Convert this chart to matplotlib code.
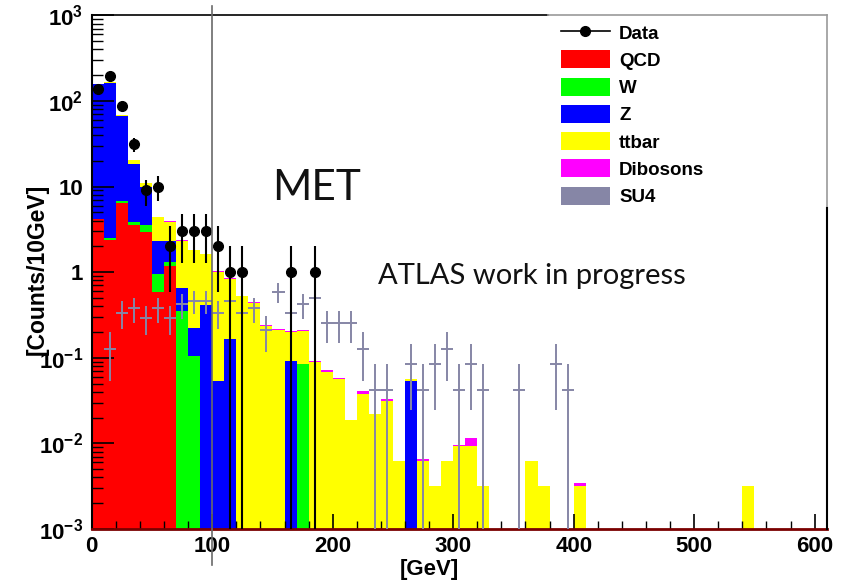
import numpy as np
import matplotlib
matplotlib.use('Agg')
import matplotlib.pyplot as plt
from matplotlib.patches import Patch, Rectangle
from matplotlib.lines import Line2D
from matplotlib.ticker import LogLocator, NullFormatter, MultipleLocator

plt.rcParams['font.family'] = ['Liberation Sans', 'DejaVu Sans']
plt.rcParams['mathtext.fontset'] = 'custom'
plt.rcParams['mathtext.rm'] = 'Liberation Sans'
plt.rcParams['mathtext.bf'] = 'Liberation Sans:bold'

# MET histograms, 10 GeV bins from 0 to 610 GeV (stacked MC)
bin_edges = np.arange(0, 620, 10)
n_bins = len(bin_edges) - 1

qcd = [4.2, 2.4, 6.5, 3.54, 2.96, 0.59, 1.17]
wjets = [0.02, 0.1, 0.3, 0.26, 0.58, 0.36, 0.15, 0.353, 0.104,
         0, 0, 0, 0, 0, 0, 0, 0, 0.085]
zjets = [153, 161.5, 59.2, 14.5, 6.36, 1.35, 0.98, 0.30, 0.118, 0.41,
         0.053, 0.165, 0, 0, 0, 0, 0.091, 0, 0, 0, 0, 0, 0, 0, 0, 0, 0.053]
ttbar = [0.4, 0.5, 2.0, 2.0, 1.0, 2.1, 1.6, 1.67, 1.58, 1.21,
         0.95, 0.675, 0.52, 0.44, 0.234, 0.21, 0.109, 0.12, 0.089, 0.069,
         0.057, 0.019, 0.038, 0.022, 0.0316, 0.0063, 0.003, 0.0063, 0.0032, 0.0063,
         0.0094, 0.0094, 0.0032, 0, 0, 0, 0.0063, 0.0032, 0, 0,
         0.0032, 0, 0, 0, 0, 0, 0, 0, 0, 0,
         0, 0, 0, 0, 0.0032]
dibosons = [2.0, 2.0, 1.0, 0.2, 0.1, 0.05, 0.08, 0.04, 0.03, 0.03,
            0.02, 0.02, 0.012, 0.01, 0.005, 0.006, 0.006, 0.004, 0.003, 0.002,
            0.001, 0, 0.003, 0, 0.0015, 0, 0.0008, 0.0003, 0, 0,
            0.0003, 0.0023, 0, 0, 0, 0, 0, 0, 0, 0, 0.0002]

data_counts = [137, 197, 87, 31, 9, 10, 2, 3, 3, 3, 2, 1, 1, 0, 0, 0, 1, 0, 1]

su4_weight = 0.042
su4_counts = [0, 3, 8, 9, 7, 9, 7, 10, 11, 11, 8, 11, 8, 9, 5, 14, 8, 10, 12, 6,
              6, 6, 3, 1, 1, 0, 2, 1, 2, 3, 1, 2, 1, 0, 0, 1, 0, 0, 2, 1]

legend_labels = ['Data', 'QCD', 'W', 'Z', 'ttbar', 'Dibosons', 'SU4']
colors = ['#ff0000', '#00ff00', '#0000ff', '#ffff00', '#ff00ff']
su4_color = '#8686a6'

ytick_vals = [1e-3, 1e-2, 1e-1, 1, 10, 1e2, 1e3]
ytick_labels = [r'$\mathbf{10^{-3}}$', r'$\mathbf{10^{-2}}$', r'$\mathbf{10^{-1}}$',
                '1', '10', r'$\mathbf{10^{2}}$', r'$\mathbf{10^{3}}$']


def padded(vals):
    out = np.zeros(n_bins)
    out[:len(vals)] = vals
    return out


centers = 0.5 * (bin_edges[:-1] + bin_edges[1:])

fig = plt.figure(figsize=(8.43, 5.81), dpi=100)
ax = fig.add_axes([0.1088, 0.0895, 0.8719, 0.8842])
ax.set_yscale('log')

base = np.zeros(n_bins)
for vals, col in zip([qcd, wjets, zjets, ttbar, dibosons], colors):
    top = base + padded(vals)
    ax.stairs(np.where(top > 0, top, 1e-6), bin_edges,
              baseline=np.where(base > 0, base, 1e-6),
              fill=True, color=col, lw=0, zorder=1)
    base = top

# SU4 signal, drawn as crosses
su4 = padded(su4_counts)
m = su4 > 0
su4_val = su4[m] * su4_weight
su4_err = np.sqrt(su4[m]) * su4_weight
su4_lo = np.minimum(su4_err, su4_val - 1e-6)
ax.errorbar(centers[m], su4_val, xerr=5, yerr=[su4_lo, su4_err], fmt='none',
            ecolor=su4_color, elinewidth=1.4, capsize=0, zorder=3)

# data
dc = padded(data_counts)
m = dc > 0
derr = np.sqrt(dc[m])
dlo = np.minimum(derr, dc[m] - 1e-6)
ax.errorbar(centers[m], dc[m], yerr=[dlo, derr], fmt='o', color='k', ms=7,
            elinewidth=1.5, capsize=0, zorder=4)

ax.set_xlim(0, 610)
ax.set_ylim(1e-3, 1e3)
ax.set_yticks(ytick_vals, ytick_labels)
ax.yaxis.set_minor_locator(LogLocator(base=10, subs=range(2, 10)))
ax.yaxis.set_minor_formatter(NullFormatter())
ax.set_xticks(range(0, 700, 100))
ax.xaxis.set_minor_locator(MultipleLocator(20))
for lab in ax.get_xticklabels() + ax.get_yticklabels():
    lab.set_fontweight('bold')
ax.tick_params(axis='y', which='major', direction='in', length=16, width=1.2, pad=6, labelsize=16)
ax.tick_params(axis='y', which='minor', direction='in', length=8, width=1.0)
ax.tick_params(axis='x', which='major', direction='in', length=11, width=1.2, pad=5, labelsize=16)
ax.tick_params(axis='x', which='minor', direction='in', length=6, width=1.0)

ax.spines['top'].set_visible(False)
ax.spines['right'].set_visible(False)
ax.spines['left'].set_linewidth(1.5)
ax.spines['bottom'].set_color('#7a0000')
ax.spines['bottom'].set_linewidth(2)

ax.set_ylabel('[Counts/10GeV]', fontsize=16.5, fontweight='bold')
ax.yaxis.set_label_coords(-0.058, 0.505)
ax.set_xlabel('[GeV]', fontsize=16, fontweight='bold')
ax.xaxis.set_label_coords(0.46, -0.058)

# legend box: white patch with grey top/right border
ax.add_patch(Rectangle((0.621, 0.625), 0.379, 0.375, transform=ax.transAxes,
                       facecolor='white', edgecolor='none', zorder=4.5, clip_on=False))
ax.plot([0, 0.621], [1, 1], transform=ax.transAxes, color='k', lw=1.2, clip_on=False, zorder=6)
ax.plot([0.621, 1], [1, 1], transform=ax.transAxes, color='#9a9a9a', lw=1.2, clip_on=False, zorder=6)
ax.plot([1, 1], [0.625, 1], transform=ax.transAxes, color='#9a9a9a', lw=1.2, clip_on=False, zorder=6)
ax.plot([1, 1], [0, 0.625], transform=ax.transAxes, color='k', lw=1.5, clip_on=False, zorder=6)

handles = [Line2D([0], [0], color='k', marker='o', ms=7, lw=1.2)]
handles += [Patch(facecolor=c, edgecolor='none') for c in colors + [su4_color]]
ax.legend(handles, legend_labels, loc='upper left', bbox_to_anchor=(0.6655, 0.9600),
          bbox_transform=fig.transFigure, frameon=False, borderpad=0, borderaxespad=0,
          handlelength=2.6, handleheight=1.1, labelspacing=0.42, handletextpad=0.5,
          prop={'family': 'Liberation Sans', 'weight': 'bold', 'size': 13.5})

ax.text(0.245, 0.64, 'MET', transform=ax.transAxes, fontsize=30.5, family='Lato',
        va='baseline', ha='left', color='#111111', zorder=6)
ax.text(0.39, 0.476, 'ATLAS work in progress', transform=ax.transAxes, fontsize=21,
        family='Lato', va='baseline', ha='left', color='#111111', zorder=6)

# stray vertical line across the slide at 100 GeV
fig.add_artist(Line2D([0.2509, 0.2509], [0.028, 0.99], color='#6a6a6a', lw=1.2))

fig.savefig('out.png', dpi=100)
